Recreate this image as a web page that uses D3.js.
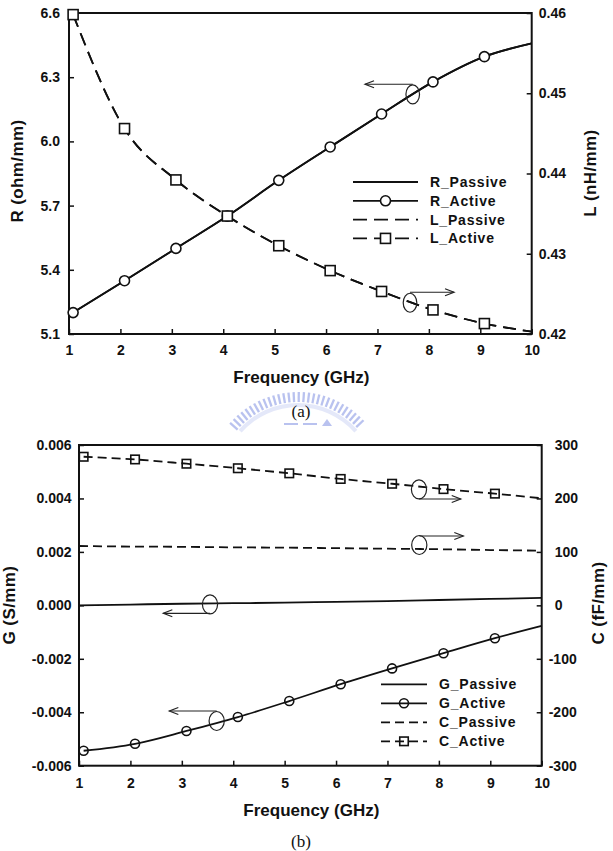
<!DOCTYPE html>
<html>
<head>
<meta charset="utf-8">
<script src="https://cdn.jsdelivr.net/npm/d3@7"></script>
<style>
body{margin:0;background:#fff;}
svg{display:block;font-family:"Liberation Sans",Arial,sans-serif;}
.tick text{font-weight:bold;font-size:14px;fill:#111;}
.tick line{stroke:#111;stroke-width:1.5;}
</style>
</head>
<body>
<svg id="fig" width="613" height="851"></svg>
<script>
'use strict';

// ---- panel (a): R and L vs frequency ----
var freqA = [1.08, 2.08, 3.08, 4.08, 5.08, 6.08, 7.08, 8.08, 9.08, 10];
var rPassive = [5.20, 5.349, 5.50, 5.651, 5.818, 5.974, 6.128, 6.278, 6.396, 6.458];
var rActive  = [5.20, 5.349, 5.50, 5.651, 5.818, 5.974, 6.128, 6.278, 6.396, 6.458];
var lPassive = [0.4598, 0.4456, 0.4392, 0.4347, 0.4310, 0.4279, 0.4253, 0.4230, 0.4213, 0.4203];
var lActive  = [0.4598, 0.4456, 0.4392, 0.4347, 0.4310, 0.4279, 0.4253, 0.4230, 0.4213, 0.4203];
var rTicks = [5.1, 5.4, 5.7, 6.0, 6.3, 6.6];
var lTicks = [0.42, 0.43, 0.44, 0.45, 0.46];
var legendA = ["R_Passive", "R_Active", "L_Passive", "L_Active"];

// ---- panel (b): G and C vs frequency ----
var freqB = [1.09, 2.09, 3.09, 4.09, 5.09, 6.09, 7.09, 8.09, 9.09, 10];
var freqBPassive = [1, 2, 3, 4, 5, 6, 7, 8, 9, 10];
var gPassive = [0.00000, 0.00003, 0.00006, 0.00008, 0.00010, 0.00013, 0.00016, 0.00020, 0.00024, 0.00028];
var gActive  = [-0.00544, -0.00518, -0.00470, -0.00418, -0.00358, -0.00295, -0.00236, -0.00179, -0.00123, -0.00077];
var cPassive = [111, 110, 109.5, 108.5, 108, 107, 106, 105, 103.5, 102.3];
var cActive  = [278, 273, 265, 256.5, 247, 236.5, 227.5, 217.5, 209, 200.3];
var gTicks = [-0.006, -0.004, -0.002, 0, 0.002, 0.004, 0.006];
var cTicks = [-300, -200, -100, 0, 100, 200, 300];
var legendB = ["G_Passive", "G_Active", "C_Passive", "C_Active"];

var freqTicks = [1, 2, 3, 4, 5, 6, 7, 8, 9, 10];

var svg = d3.select("#fig");

function fmt(spec){
  var f = d3.format(spec);
  return function(d){ return f(d).replace("\u2212", "-"); };
}

// watermark behind caption (a)
(function(){
  var wm = svg.append("g").attr("opacity", 0.6);
  var cx = 298, cy = 482;
  d3.range(-49, 50, 3.3).forEach(function(a){
    var t = a * Math.PI / 180;
    wm.append("line")
      .attr("x1", cx + 80*Math.sin(t)).attr("y1", cy - 80*Math.cos(t))
      .attr("x2", cx + 90*Math.sin(t)).attr("y2", cy - 90*Math.cos(t))
      .attr("stroke", "#8c9be6").attr("stroke-width", 2.3);
  });
  var arc = d3.arc().innerRadius(75).outerRadius(79).startAngle(-0.85).endAngle(0.85);
  wm.append("path").attr("d", arc()).attr("transform", "translate(" + cx + "," + cy + ")")
    .attr("fill", "#d3d9f6");
  wm.append("line").attr("x1", 284).attr("x2", 298).attr("y1", 424).attr("y2", 424)
    .attr("stroke", "#8c9be6").attr("stroke-width", 2);
  wm.append("line").attr("x1", 303).attr("x2", 317).attr("y1", 424).attr("y2", 424)
    .attr("stroke", "#8c9be6").attr("stroke-width", 2);
  wm.append("path").attr("d", "M322,426 L327,419 L332,426 Z").attr("fill", "#8c9be6");
})();

function drawPanel(p){
  var g = svg.append("g");
  var x = d3.scaleLinear().domain([1, 10]).range([p.left, p.right]);
  var yL = d3.scaleLinear().domain(p.leftDomain).range([p.bottom, p.top]);
  var yR = d3.scaleLinear().domain(p.rightDomain).range([p.bottom, p.top]);

  var xAxis = g.append("g")
    .attr("transform", "translate(0," + p.bottom + ")")
    .call(d3.axisBottom(x).tickValues(freqTicks).tickSizeInner(-5).tickSizeOuter(0)
      .tickPadding(p.xPad).tickFormat(d3.format("d")));
  var lAxis = g.append("g")
    .attr("transform", "translate(" + p.left + ",0)")
    .call(d3.axisLeft(yL).tickValues(p.leftTicks).tickSizeInner(-5).tickSizeOuter(0)
      .tickPadding(p.lPad).tickFormat(fmt(p.leftFormat)));
  var rAxis = g.append("g")
    .attr("transform", "translate(" + p.right + ",0)")
    .call(d3.axisRight(yR).tickValues(p.rightTicks).tickSizeInner(-5).tickSizeOuter(0)
      .tickPadding(p.rPad).tickFormat(fmt(p.rightFormat)));
  rAxis.selectAll(".tick text").attr("x", function(d){ return d < 0 ? p.rPad - 6 : p.rPad; });
  [xAxis, lAxis, rAxis].forEach(function(a){ a.select(".domain").remove(); a.attr("font-size", null).attr("font-family", null); });

  g.append("rect")
    .attr("x", p.left).attr("y", p.top)
    .attr("width", p.right - p.left).attr("height", p.bottom - p.top)
    .attr("fill", "none").attr("stroke", "#111").attr("stroke-width", 2);

  // curves
  p.series.forEach(function(s){
    var y = s.axis === "L" ? yL : yR;
    var line = d3.line()
      .x(function(d, i){ return x(s.x[i]); })
      .y(function(d){ return y(d); })
      .curve(d3.curveMonotoneX);
    g.append("path").datum(s.y)
      .attr("d", line)
      .attr("fill", "none").attr("stroke", "#111").attr("stroke-width", 1.8)
      .attr("stroke-dasharray", s.dash || null);
  });
  // markers
  p.series.forEach(function(s){
    if(!s.marker) return;
    var y = s.axis === "L" ? yL : yR;
    var pts = s.y.slice(0, 9);
    if(s.marker === "circle"){
      g.selectAll(null).data(pts).enter().append("circle")
        .attr("cx", function(d, i){ return x(s.x[i]); })
        .attr("cy", function(d){ return y(d); })
        .attr("r", p.mSize / 2)
        .attr("fill", p.mFill).attr("stroke", "#111").attr("stroke-width", 1.6);
    } else {
      g.selectAll(null).data(pts).enter().append("rect")
        .attr("x", function(d, i){ return x(s.x[i]) - p.sqSize / 2; })
        .attr("y", function(d){ return y(d) - p.sqSize / 2; })
        .attr("width", p.sqSize).attr("height", p.sqSize)
        .attr("fill", p.mFill).attr("stroke", "#111").attr("stroke-width", 1.6);
    }
  });

  // annotations (ellipse + arrow), positioned in left-axis units
  p.notes.forEach(function(n){
    var ex = x(n.f), ey = yL(n.v), ay = yL(n.av), ax1 = x(n.fEnd), ax0 = x(n.f);
    var dir = ax1 > ax0 ? -1 : 1;
    g.append("ellipse").attr("cx", ex).attr("cy", ey).attr("rx", p.eRx).attr("ry", 9.5)
      .attr("fill", "none").attr("stroke", "#222").attr("stroke-width", 1.2);
    g.append("line").attr("x1", ax0).attr("x2", ax1).attr("y1", ay).attr("y2", ay)
      .attr("stroke", "#222").attr("stroke-width", 1.2);
    g.append("path")
      .attr("d", "M" + (ax1 + dir*9) + "," + (ay - 3.5) + "L" + ax1 + "," + ay + "L" + (ax1 + dir*9) + "," + (ay + 3.5))
      .attr("fill", "none").attr("stroke", "#222").attr("stroke-width", 1.2);
  });

  // legend
  var lg = g.append("g");
  p.legend.forEach(function(name, i){
    var s = p.series[i];
    var ly = p.legY + i * p.legDy;
    var xm = (p.legX0 + p.legX1) / 2;
    lg.append("line").attr("x1", p.legX0).attr("x2", p.legX1).attr("y1", ly).attr("y2", ly)
      .attr("stroke", "#111").attr("stroke-width", 1.8)
      .attr("stroke-dasharray", s.legDash || null);
    if(s.marker === "circle"){
      lg.append("circle").attr("cx", xm).attr("cy", ly).attr("r", p.mSize / 2)
        .attr("fill", p.mFill).attr("stroke", "#111").attr("stroke-width", 1.6);
    } else if(s.marker === "square"){
      lg.append("rect").attr("x", xm - p.sqSize/2).attr("y", ly - p.sqSize/2)
        .attr("width", p.sqSize).attr("height", p.sqSize)
        .attr("fill", p.mFill).attr("stroke", "#111").attr("stroke-width", 1.6);
    }
    lg.append("text").attr("x", p.legTextX).attr("y", ly).attr("dy", "0.35em")
      .attr("font-size", 14).attr("font-weight", "bold").attr("letter-spacing", 0.8)
      .attr("fill", "#111").text(name);
  });

  // titles
  g.append("text").attr("x", (p.left + p.right) / 2 + 1).attr("y", p.xTitleY).attr("dy", "0.35em")
    .attr("text-anchor", "middle").attr("font-size", 17).attr("font-weight", "bold").attr("fill", "#111")
    .text("Frequency (GHz)");
  g.append("text").attr("transform", "translate(" + p.lTitleX + "," + p.lTitleY + ") rotate(-90)")
    .attr("dy", "0.35em").attr("text-anchor", "middle").attr("font-size", 17).attr("font-weight", "bold")
    .attr("letter-spacing", 0.4).attr("fill", "#111").text(p.leftTitle);
  g.append("text").attr("transform", "translate(" + p.rTitleX + "," + p.rTitleY + ") rotate(-90)")
    .attr("dy", "0.35em").attr("text-anchor", "middle").attr("font-size", 17).attr("font-weight", "bold")
    .attr("letter-spacing", 0.4).attr("fill", "#111").text(p.rightTitle);
  g.append("text").attr("x", p.capX).attr("y", p.capY).attr("dy", "0.35em")
    .attr("text-anchor", "middle").attr("font-family", "'Liberation Serif','Times New Roman',serif")
    .attr("font-size", 17).attr("fill", "#111").text(p.caption);
}

drawPanel({
  left: 69, right: 531.7, top: 13, bottom: 334,
  leftDomain: [5.1, 6.6], rightDomain: [0.42, 0.46],
  leftTicks: rTicks, rightTicks: lTicks, leftFormat: ".1f", rightFormat: ".2f",
  xPad: 11, lPad: 9, rPad: 7,
  mSize: 10, sqSize: 10, mFill: "#fff", eRx: 6.8,
  series: [
    {x: freqA, y: rPassive, axis: "L"},
    {x: freqA, y: rActive, axis: "L", marker: "circle"},
    {x: freqA, y: lPassive, axis: "R", dash: "13,7", legDash: "14,7"},
    {x: freqA, y: lActive, axis: "R", dash: "13,7", marker: "square", legDash: "14,7"}
  ],
  notes: [
    {f: 7.686, v: 6.220, av: 6.267, fEnd: 6.758},
    {f: 7.633, v: 5.246, av: 5.295, fEnd: 8.489}
  ],
  legend: legendA, legX0: 353, legX1: 418, legTextX: 430, legY: 182, legDy: 18.8,
  xTitleY: 377, lTitleX: 17, lTitleY: 171, rTitleX: 590, rTitleY: 173,
  leftTitle: "R (ohm/mm)", rightTitle: "L (nH/mm)",
  capX: 301, capY: 411, caption: "(a)"
});

drawPanel({
  left: 79, right: 541.7, top: 445, bottom: 765.7,
  leftDomain: [-0.006, 0.006], rightDomain: [-300, 300],
  leftTicks: gTicks, rightTicks: cTicks, leftFormat: ".3f", rightFormat: "d",
  xPad: 12.7, lPad: 7.5, rPad: 13,
  mSize: 9, sqSize: 8.5, mFill: "none", eRx: 7.6,
  series: [
    {x: freqBPassive, y: gPassive, axis: "L"},
    {x: freqB, y: gActive, axis: "L", marker: "circle"},
    {x: freqBPassive, y: cPassive, axis: "R", dash: "9,5", legDash: "9,5"},
    {x: freqB, y: cActive, axis: "R", dash: "9,5", marker: "square", legDash: "9,5"}
  ],
  notes: [
    {f: 7.613, v: 0.004343, av: 0.003980, fEnd: 8.425},
    {f: 7.619, v: 0.002258, av: 0.002595, fEnd: 8.475},
    {f: 3.548, v: 0.000039, av: -0.000297, fEnd: 2.640},
    {f: 3.678, v: -0.004327, av: -0.003953, fEnd: 2.757}
  ],
  legend: legendB, legX0: 381, legX1: 427, legTextX: 439, legY: 684.3, legDy: 19,
  xTitleY: 810, lTitleX: 9, lTitleY: 605, rTitleX: 598, rTitleY: 603,
  leftTitle: "G (S/mm)", rightTitle: "C (fF/mm)",
  capX: 301, capY: 841, caption: "(b)"
});
</script>
</body>
</html>
